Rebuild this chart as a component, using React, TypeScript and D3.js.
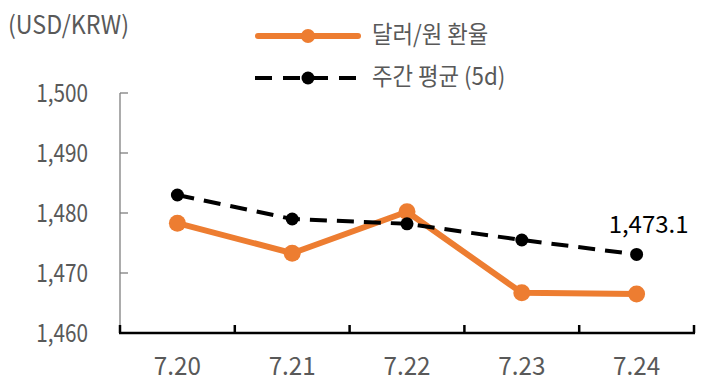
import React from "react";
import * as d3 from "d3";

const dates = ["7.20", "7.21", "7.22", "7.23", "7.24"];
const spotRate = [1478.3, 1473.3, 1480.2, 1466.7, 1466.5];
const weeklyAvg = [1483.0, 1479.0, 1478.2, 1475.5, 1473.1];
const yTicks = [1460, 1470, 1480, 1490, 1500];
const legendLabels = ["달러/원 환율", "주간 평균 (5d)"];

const W = 708;
const H = 389;
const FONT = "'Noto Sans CJK KR', 'Noto Sans', sans-serif";
const ORANGE = "#ED7D31";
const GREY = "#595959";

// text squeezed horizontally to mimic the narrow font of the original
const T = ({ x, y, sx = 1, size, fill = GREY, anchor = "start", children }: any) => (
  <text
    transform={`translate(${x},${y}) scale(${sx},1)`}
    fontSize={size}
    fill={fill}
    textAnchor={anchor}
  >
    {children}
  </text>
);

export default function App() {
  const x = d3.scaleBand<string>().domain(dates).range([120, 694]);
  const y = d3.scaleLinear().domain([1460, 1500]).range([333, 93]);
  const cx = (d: string) => (x(d) ?? 0) + x.bandwidth() / 2;

  const line = d3
    .line<number>()
    .x((_, i) => cx(dates[i]))
    .y((v) => y(v));

  const last = dates.length - 1;
  const y0 = y(1460);

  return (
    <svg
      width={W}
      height={H}
      style={{ position: "absolute", left: 0, top: 0, background: "#fff" }}
      fontFamily={FONT}
    >
      <T x={8} y={34} size={25} sx={0.93}>
        (USD/KRW)
      </T>

      {/* legend */}
      <line x1={258} x2={358} y1={36} y2={36} stroke={ORANGE} strokeWidth={6} strokeLinecap="round" />
      <circle cx={308} cy={36} r={7} fill={ORANGE} />
      <T x={372} y={43} size={24} sx={0.93}>
        {legendLabels[0]}
      </T>
      <line x1={255} x2={356} y1={78} y2={78} stroke="#000" strokeWidth={4} strokeDasharray="17 11" />
      <circle cx={308} cy={78} r={6.5} fill="#000" />
      <T x={372} y={85} size={24} sx={0.93}>
        {legendLabels[1]}
      </T>

      {/* y axis */}
      <line x1={120} x2={120} y1={y(1500)} y2={y0} stroke="#7f7f7f" strokeWidth={1.3} />
      {yTicks.map((t) => (
        <g key={t}>
          <line x1={120} x2={128} y1={y(t)} y2={y(t)} stroke="#7f7f7f" strokeWidth={1.3} />
          <T x={88} y={y(t) + 9} size={25} sx={0.83} anchor="end">
            {d3.format(",")(t)}
          </T>
        </g>
      ))}

      {/* x axis */}
      <line x1={119} x2={695} y1={y0} y2={y0} stroke="#000" strokeWidth={2.7} />
      {[...dates.map((d) => x(d) ?? 0), x.range()[1]].map((px, i) => (
        <line key={i} x1={px} x2={px} y1={y0} y2={y0 - 8} stroke="#000" strokeWidth={2.5} />
      ))}
      {dates.map((d) => (
        <T key={d} x={cx(d)} y={375} size={25} sx={0.97} anchor="middle">
          {d}
        </T>
      ))}

      {/* series */}
      <path d={line(spotRate) ?? ""} fill="none" stroke={ORANGE} strokeWidth={6} strokeLinejoin="round" />
      {spotRate.map((v, i) => (
        <circle key={i} cx={cx(dates[i])} cy={y(v)} r={8.5} fill={ORANGE} />
      ))}
      <path d={line(weeklyAvg) ?? ""} fill="none" stroke="#000" strokeWidth={4} strokeDasharray="17 10" />
      {weeklyAvg.map((v, i) => (
        <circle key={i} cx={cx(dates[i])} cy={y(v)} r={6.5} fill="#000" />
      ))}
      <T x={cx(dates[last]) + 12} y={233} size={24} fill="#000" anchor="middle">
        {d3.format(",.1f")(weeklyAvg[last])}
      </T>
    </svg>
  );
}
